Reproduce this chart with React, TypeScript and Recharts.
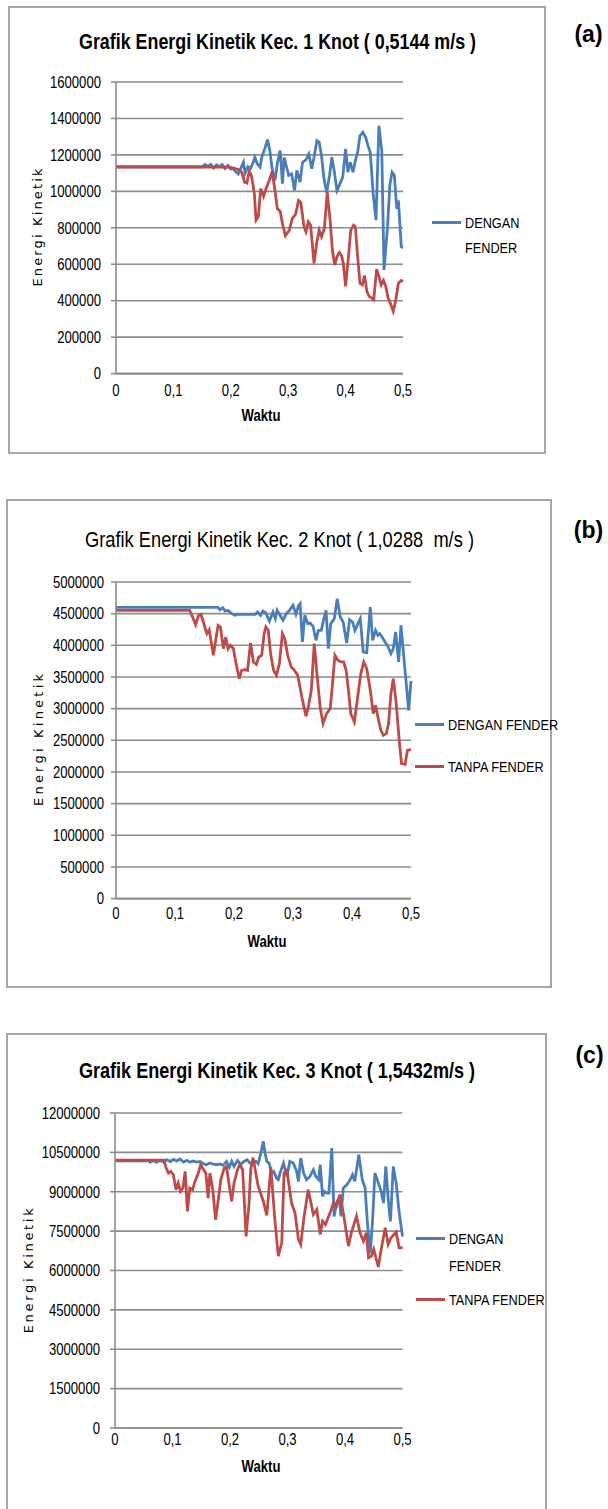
import React from 'react';
import { LineChart, Line, XAxis, YAxis, CartesianGrid, Legend } from 'recharts';

// [waktu (s), energi kinetik] pairs
const dengan1: [number, number][] = [
  [0, 1135000], [0.15, 1135000], [0.155, 1147000], [0.16, 1137000], [0.165, 1148000], [0.17, 1128000],
  [0.175, 1146000], [0.18, 1136000], [0.185, 1147000], [0.19, 1125000], [0.195, 1142000], [0.2, 1122000],
  [0.204, 1125000], [0.208, 1110000], [0.213, 1096000], [0.218, 1130000], [0.222, 1160000], [0.225, 1100000],
  [0.23, 1136000], [0.234, 1124000], [0.238, 1151000], [0.242, 1187000], [0.246, 1151000], [0.251, 1133000],
  [0.254, 1187000], [0.26, 1242000], [0.264, 1284000], [0.268, 1224000], [0.272, 1124000], [0.277, 1060000],
  [0.281, 1151000], [0.286, 1224000], [0.29, 1042000], [0.293, 1187000], [0.297, 1136000], [0.301, 1087000],
  [0.306, 1096000], [0.311, 1005000], [0.315, 1115000], [0.3206, 1051000], [0.325, 1160000], [0.331, 1173000],
  [0.336, 1205000], [0.341, 1124000], [0.345, 1187000], [0.35, 1278000], [0.354, 1269000], [0.358, 1196000],
  [0.362, 1078000], [0.367, 992000], [0.372, 1087000], [0.376, 1187000], [0.38, 1115000], [0.385, 1005000],
  [0.389, 1033000], [0.395, 1078000], [0.4, 1233000], [0.404, 1105000], [0.408, 1160000], [0.413, 1105000],
  [0.417, 1169000], [0.421, 1215000], [0.425, 1305000], [0.43, 1324000], [0.435, 1296000], [0.439, 1251000],
  [0.443, 1215000], [0.448, 987000], [0.453, 842000], [0.458, 1360000], [0.463, 1224000], [0.467, 569000],
  [0.473, 805000], [0.477, 1033000], [0.481, 1105000], [0.485, 1087000], [0.489, 905000], [0.492, 951000],
  [0.497, 696000], [0.5, 690000],
];
const tanpa1: [number, number][] = [
  [0, 1133000], [0.196, 1133000], [0.205, 1128000], [0.213, 1120000], [0.219, 1105000], [0.224, 1050000],
  [0.228, 1045000], [0.232, 1110000], [0.236, 1087000], [0.241, 987000], [0.244, 842000], [0.248, 860000],
  [0.252, 1015000], [0.257, 973000], [0.262, 1020000], [0.267, 1060000], [0.272, 1109000], [0.277, 1005000],
  [0.281, 905000], [0.286, 891000], [0.29, 823000], [0.295, 757000], [0.302, 787000], [0.307, 850000],
  [0.313, 875000], [0.318, 950000], [0.322, 940000], [0.3275, 805000], [0.331, 778000], [0.335, 833000],
  [0.339, 814000], [0.345, 605000], [0.35, 724000], [0.354, 787000], [0.358, 751000], [0.363, 796000],
  [0.368, 996000], [0.373, 842000], [0.377, 678000], [0.381, 596000], [0.385, 642000], [0.389, 664000],
  [0.393, 647000], [0.396, 605000], [0.4, 478000], [0.405, 642000], [0.409, 787000], [0.414, 814000],
  [0.417, 805000], [0.421, 642000], [0.425, 496000], [0.429, 487000], [0.433, 538000], [0.437, 451000],
  [0.441, 424000], [0.445, 415000], [0.449, 405000], [0.454, 573000], [0.458, 533000], [0.462, 487000],
  [0.466, 511000], [0.47, 478000], [0.474, 415000], [0.479, 378000], [0.483, 342000], [0.487, 396000],
  [0.492, 496000], [0.497, 511000], [0.5, 505000],
];

const dengan2: [number, number][] = [
  [0, 4600000], [0.173, 4600000], [0.176, 4560000], [0.181, 4595000], [0.185, 4542000], [0.19, 4550000],
  [0.196, 4500000], [0.202, 4474000], [0.207, 4490000], [0.236, 4490000], [0.24, 4526000], [0.245, 4474000],
  [0.249, 4542000], [0.254, 4510000], [0.26, 4384000], [0.266, 4526000], [0.27, 4421000], [0.273, 4553000],
  [0.278, 4474000], [0.283, 4395000], [0.288, 4490000], [0.294, 4553000], [0.3, 4632000], [0.305, 4490000],
  [0.309, 4620000], [0.312, 4658000], [0.316, 4053000], [0.32, 4474000], [0.325, 4342000], [0.329, 4350000],
  [0.334, 4300000], [0.339, 4079000], [0.343, 4237000], [0.348, 4237000], [0.352, 4405000], [0.356, 4553000],
  [0.36, 3947000], [0.364, 4342000], [0.37, 4421000], [0.375, 4737000], [0.38, 4447000], [0.385, 4368000],
  [0.391, 4037000], [0.396, 4405000], [0.401, 4368000], [0.405, 4237000], [0.41, 4342000], [0.414, 4421000],
  [0.419, 3895000], [0.425, 3884000], [0.431, 4605000], [0.435, 4079000], [0.44, 4237000], [0.444, 4158000],
  [0.447, 4184000], [0.451, 4132000], [0.456, 4053000], [0.46, 4000000], [0.466, 3868000], [0.47, 3947000],
  [0.474, 4211000], [0.479, 3737000], [0.483, 4316000], [0.487, 3895000], [0.492, 3395000], [0.496, 2974000],
  [0.5, 3437000],
];
const tanpa2: [number, number][] = [
  [0, 4553000], [0.125, 4553000], [0.131, 4421000], [0.135, 4326000], [0.14, 4474000], [0.144, 4490000],
  [0.148, 4368000], [0.154, 4184000], [0.158, 4247000], [0.165, 3842000], [0.169, 4079000], [0.173, 4316000],
  [0.177, 4290000], [0.182, 3947000], [0.186, 4132000], [0.19, 3947000], [0.194, 4000000], [0.199, 3947000],
  [0.203, 3737000], [0.209, 3474000], [0.213, 3605000], [0.219, 3616000], [0.223, 3605000], [0.228, 4037000],
  [0.233, 3737000], [0.238, 3700000], [0.242, 3816000], [0.247, 3842000], [0.251, 4184000], [0.254, 4290000],
  [0.258, 4237000], [0.262, 3868000], [0.267, 3605000], [0.272, 3526000], [0.277, 3711000], [0.282, 4184000],
  [0.286, 4105000], [0.291, 3842000], [0.297, 3658000], [0.302, 3610000], [0.308, 3526000], [0.315, 3184000],
  [0.322, 2879000], [0.326, 3026000], [0.331, 3290000], [0.336, 4026000], [0.34, 3605000], [0.346, 3026000],
  [0.351, 2763000], [0.357, 2921000], [0.363, 3000000], [0.367, 3395000], [0.371, 3842000], [0.376, 3763000],
  [0.381, 3737000], [0.386, 3737000], [0.39, 3605000], [0.394, 3290000], [0.398, 2921000], [0.404, 2789000],
  [0.41, 3211000], [0.415, 3553000], [0.42, 3737000], [0.425, 3632000], [0.431, 3290000], [0.436, 2921000],
  [0.44, 3053000], [0.445, 2816000], [0.449, 2658000], [0.453, 2579000], [0.458, 2605000], [0.462, 2763000],
  [0.466, 3237000], [0.47, 3474000], [0.475, 3079000], [0.48, 2500000], [0.484, 2132000], [0.49, 2121000],
  [0.494, 2342000], [0.5, 2353000],
];

const dengan3: [number, number][] = [
  [0, 10180000], [0.06, 10180000], [0.061, 10131000], [0.067, 10190000], [0.072, 10120000], [0.078, 10200000],
  [0.084, 10130000], [0.09, 10220000], [0.096, 10150000], [0.102, 10230000], [0.107, 10170000], [0.113, 10250000],
  [0.119, 10130000], [0.125, 10195000], [0.13, 10130000], [0.136, 10170000], [0.142, 10130000], [0.148, 10150000],
  [0.154, 10068000], [0.159, 10030000], [0.165, 10095000], [0.171, 10055000], [0.177, 10030000], [0.183, 10055000],
  [0.188, 10005000], [0.194, 10157000], [0.199, 9941000], [0.203, 10157000], [0.207, 9966000], [0.213, 10195000],
  [0.219, 10030000], [0.224, 10157000], [0.23, 10220000], [0.235, 10093000], [0.241, 10093000], [0.245, 10157000],
  [0.249, 10068000], [0.253, 10411000], [0.258, 10920000], [0.261, 10475000], [0.264, 10157000], [0.268, 10093000],
  [0.272, 9712000], [0.276, 9775000], [0.281, 9521000], [0.284, 9460000], [0.287, 9712000], [0.293, 10093000],
  [0.299, 9585000], [0.304, 10157000], [0.31, 10093000], [0.316, 9775000], [0.319, 9394000], [0.323, 10284000],
  [0.328, 9712000], [0.333, 9458000], [0.339, 9585000], [0.345, 9839000], [0.349, 9585000], [0.354, 9458000],
  [0.357, 10030000], [0.361, 8822000], [0.364, 9013000], [0.368, 8949000], [0.372, 8949000], [0.377, 10665000],
  [0.381, 8059000], [0.386, 8631000], [0.39, 8758000], [0.393, 8059000], [0.397, 9140000], [0.403, 9267000],
  [0.409, 9458000], [0.413, 9648000], [0.417, 9394000], [0.424, 10411000], [0.43, 9458000], [0.435, 9140000],
  [0.439, 7805000], [0.444, 6661000], [0.448, 7932000], [0.452, 9712000], [0.457, 9394000], [0.463, 9013000],
  [0.467, 8568000], [0.471, 9966000], [0.475, 8758000], [0.479, 7868000], [0.484, 9966000], [0.489, 9330000],
  [0.494, 8250000], [0.5, 7297000],
];
const tanpa3: [number, number][] = [
  [0, 10200000], [0.085, 10200000], [0.089, 9900000], [0.093, 9712000], [0.097, 9775000], [0.1015, 9648000],
  [0.106, 9076000], [0.11, 9330000], [0.114, 9013000], [0.118, 9140000], [0.122, 9775000], [0.126, 8250000],
  [0.13, 9140000], [0.135, 9076000], [0.139, 9394000], [0.145, 9712000], [0.149, 10030000], [0.154, 9839000],
  [0.158, 9712000], [0.162, 8758000], [0.165, 9712000], [0.17, 9076000], [0.175, 7932000], [0.18, 8758000],
  [0.184, 9458000], [0.19, 9903000], [0.194, 9966000], [0.198, 9330000], [0.203, 8631000], [0.207, 9330000],
  [0.213, 9839000], [0.217, 10030000], [0.222, 9839000], [0.228, 7297000], [0.233, 8504000], [0.236, 9839000],
  [0.24, 10300000], [0.249, 9209000], [0.258, 8639000], [0.264, 8095000], [0.271, 9943000], [0.278, 7943000],
  [0.284, 6550000], [0.29, 7057000], [0.294, 9715000], [0.299, 9816000], [0.307, 8576000], [0.313, 8196000],
  [0.319, 7183000], [0.323, 6993000], [0.329, 8070000], [0.336, 9082000], [0.345, 8133000], [0.351, 8323000],
  [0.357, 7373000], [0.361, 7880000], [0.366, 7753000], [0.374, 8196000], [0.38, 8576000], [0.385, 8450000],
  [0.391, 8892000], [0.397, 8196000], [0.406, 6930000], [0.411, 7436000], [0.42, 8070000], [0.426, 7436000],
  [0.432, 7120000], [0.437, 7436000], [0.441, 6487000], [0.446, 6550000], [0.45, 6803000], [0.458, 6133000],
  [0.464, 6930000], [0.47, 7626000], [0.475, 6993000], [0.48, 7247000], [0.489, 7462000], [0.494, 6867000],
  [0.5, 6867000],
];

const timeTicks = [0, 0.1, 0.2, 0.3, 0.4, 0.5];
const energyTicks1 = [0, 200000, 400000, 600000, 800000, 1000000, 1200000, 1400000, 1600000];
const energyTicks2 = [0, 500000, 1000000, 1500000, 2000000, 2500000, 3000000, 3500000, 4000000, 4500000, 5000000];
const energyTicks3 = [0, 1500000, 3000000, 4500000, 6000000, 7500000, 9000000, 10500000, 12000000];

const seriesNames = ['DENGAN FENDER', 'TANPA FENDER'];
const legend1 = ['DENGAN\nFENDER'];
const legend2 = ['DENGAN FENDER', 'TANPA FENDER'];
const legend3 = ['DENGAN\nFENDER', 'TANPA FENDER'];

const titles = [
  'Grafik Energi Kinetik Kec. 1 Knot ( 0,5144 m/s )',
  'Grafik Energi Kinetik Kec. 2 Knot ( 1,0288  m/s )',
  'Grafik Energi Kinetik Kec. 3 Knot ( 1,5432m/s )',
];
const tags = ['(a)', '(b)', '(c)'];

const BLUE = '#4a7ebb';
const RED = '#be4b48';
const GRID = '#8c8c8c';
const SANS = "'Liberation Sans', Arial, sans-serif";
// the original uses a condensed face; squeeze Liberation Sans to narrow metrics
const SQUEEZE = 0.82;

const toRows = (pts: [number, number][]) => pts.map(([t, e]) => ({ t, e }));
const fmtTime = (v: number) => String(v).replace('.', ',');

const NarrowTick = (props: any) => {
  const { x, y, payload, textAnchor, dy, format } = props;
  return (
    <g transform={`translate(${x},${y}) scale(${SQUEEZE},1)`}>
      <text x={0} y={0} dy={dy} textAnchor={textAnchor} fill="#000" fontFamily={SANS} fontSize={16}>
        {format(payload.value)}
      </text>
    </g>
  );
};

const panels = [
  {
    frame: { left: 8, top: 6, width: 538, height: 448 },
    plot: { left: 116, top: 81.7, right: 403, bottom: 373.3 },
    series: [dengan1, tanpa1], yTicks: energyTicks1, legend: legend1,
    legendBox: { left: 432, top: 210, lineHeight: 25.5, gap: 0 },
    xTickMargin: 11, yTickMargin: 10,
    title: { x: 277.5, y: 41, len: 397, bold: true },
    tag: { x: 588.5, y: 33.5 },
    xLabel: { x: 261, y: 416 },
    yLabel: { x: 37.5, y: 227.5, len: 118 },
  },
  {
    frame: { left: 6, top: 499, width: 546, height: 489 },
    plot: { left: 116, top: 581.7, right: 411, bottom: 898.3 },
    series: [dengan2, tanpa2], yTicks: energyTicks2, legend: legend2,
    legendBox: { left: 414.5, top: 715, lineHeight: 20, gap: 21.7 },
    xTickMargin: 9, yTickMargin: 7,
    title: { x: 279.5, y: 539, len: 389, bold: false },
    tag: { x: 588.5, y: 530 },
    xLabel: { x: 267, y: 941.7 },
    yLabel: { x: 38.7, y: 740, len: 132 },
  },
  {
    frame: { left: 6, top: 1033, width: 541, height: 490 },
    plot: { left: 115, top: 1113.3, right: 402.5, bottom: 1428.3 },
    series: [dengan3, tanpa3], yTicks: energyTicks3, legend: legend3,
    legendBox: { left: 416, top: 1225, lineHeight: 27.3, gap: 6 },
    xTickMargin: 6, yTickMargin: 10,
    title: { x: 277, y: 1070, len: 396, bold: true },
    tag: { x: 589.5, y: 1055 },
    xLabel: { x: 261, y: 1466.7 },
    yLabel: { x: 29, y: 1270.8, len: 125 },
  },
];

type PanelCfg = (typeof panels)[number];

const Panel = ({ cfg }: { cfg: PanelCfg }) => {
  const { frame, plot, legendBox } = cfg;
  const chartTop = plot.top - 20;
  const width = plot.right + 20;
  const height = plot.bottom - plot.top + 80;
  const colors = [BLUE, RED];

  const renderLegend = () => (
    <div style={{ fontFamily: SANS, fontSize: 15.5, color: '#000' }}>
      {cfg.legend.map((label, i) => (
        <div key={label} style={{ display: 'flex', alignItems: 'flex-start', marginTop: i ? legendBox.gap : 0 }}>
          <span
            style={{
              display: 'inline-block',
              flex: 'none',
              width: 29,
              height: 3,
              marginTop: legendBox.lineHeight / 2 - 1.5,
              marginRight: 4,
              background: colors[i],
            }}
          />
          <span
            style={{
              display: 'inline-block',
              whiteSpace: 'pre',
              lineHeight: `${legendBox.lineHeight}px`,
              transform: `scaleX(${SQUEEZE})`,
              transformOrigin: 'left center',
            }}
          >
            {label}
          </span>
        </div>
      ))}
    </div>
  );

  return (
    <>
      <div
        style={{
          position: 'absolute',
          left: frame.left,
          top: frame.top,
          width: frame.width,
          height: frame.height,
          border: '2px solid #a6a6a6',
          boxSizing: 'border-box',
          background: '#fff',
        }}
      />
      <div style={{ position: 'absolute', left: 0, top: chartTop }}>
        <LineChart width={width} height={height} margin={{ top: 20, right: 20, bottom: 30, left: plot.left - 60 }}>
          <CartesianGrid vertical={false} stroke={GRID} strokeWidth={1.6} />
          <XAxis
            type="number"
            dataKey="t"
            domain={[0, 0.5]}
            ticks={timeTicks}
            height={30}
            axisLine={{ stroke: GRID, strokeWidth: 1.6 }}
            tickLine={false}
            tickSize={0}
            tickMargin={cfg.xTickMargin}
            tick={<NarrowTick dy="0.71em" format={fmtTime} />}
          />
          <YAxis
            type="number"
            domain={[0, cfg.yTicks[cfg.yTicks.length - 1]]}
            ticks={cfg.yTicks}
            interval={0}
            width={60}
            axisLine={{ stroke: GRID, strokeWidth: 1.6 }}
            tickLine={{ stroke: GRID, strokeWidth: 1.6 }}
            tickSize={5}
            tickMargin={cfg.yTickMargin}
            tick={<NarrowTick dy="0.36em" format={(v: number) => String(v)} />}
          />
          <Legend
            layout="vertical"
            align="center"
            verticalAlign="middle"
            content={renderLegend}
            wrapperStyle={{ left: legendBox.left, top: legendBox.top - chartTop, width: 150 }}
          />
          {cfg.series.map((pts, i) => (
            <Line
              key={seriesNames[i]}
              name={seriesNames[i]}
              data={toRows(pts)}
              dataKey="e"
              type="linear"
              stroke={colors[i]}
              strokeWidth={2.8}
              dot={false}
              activeDot={false}
              isAnimationActive={false}
            />
          ))}
        </LineChart>
      </div>
    </>
  );
};

export default function App() {
  return (
    <div style={{ position: 'absolute', left: 0, top: 0, width: 608, height: 1509, background: '#fff', overflow: 'hidden' }}>
      {panels.map((p, i) => (
        <Panel key={tags[i]} cfg={p} />
      ))}
      <svg width={608} height={1509} style={{ position: 'absolute', left: 0, top: 0, pointerEvents: 'none' }}>
        {panels.map((p, i) => (
          <g key={tags[i]} fill="#000">
            <text
              x={p.title.x}
              y={p.title.y}
              textAnchor="middle"
              dominantBaseline="central"
              fontFamily={SANS}
              fontSize={22}
              fontWeight={p.title.bold ? 700 : 400}
              textLength={p.title.len}
              lengthAdjust="spacingAndGlyphs"
              style={{ whiteSpace: 'pre' }}
            >
              {titles[i]}
            </text>
            <text
              x={p.tag.x}
              y={p.tag.y}
              textAnchor="middle"
              dominantBaseline="central"
              fontFamily={SANS}
              fontSize={23}
              fontWeight={700}
            >
              {tags[i]}
            </text>
            <g transform={`translate(${p.xLabel.x},${p.xLabel.y}) scale(${SQUEEZE},1)`}>
              <text x={0} y={0} textAnchor="middle" dominantBaseline="central" fontFamily={SANS} fontSize={16} fontWeight={700}>
                Waktu
              </text>
            </g>
            <text
              x={p.yLabel.x}
              y={p.yLabel.y}
              textAnchor="middle"
              dominantBaseline="central"
              transform={`rotate(-90 ${p.yLabel.x} ${p.yLabel.y})`}
              fontFamily="'DejaVu Sans', Verdana, sans-serif"
              fontSize={13}
              textLength={p.yLabel.len}
              lengthAdjust="spacing"
            >
              Energi Kinetik
            </text>
          </g>
        ))}
      </svg>
    </div>
  );
}
